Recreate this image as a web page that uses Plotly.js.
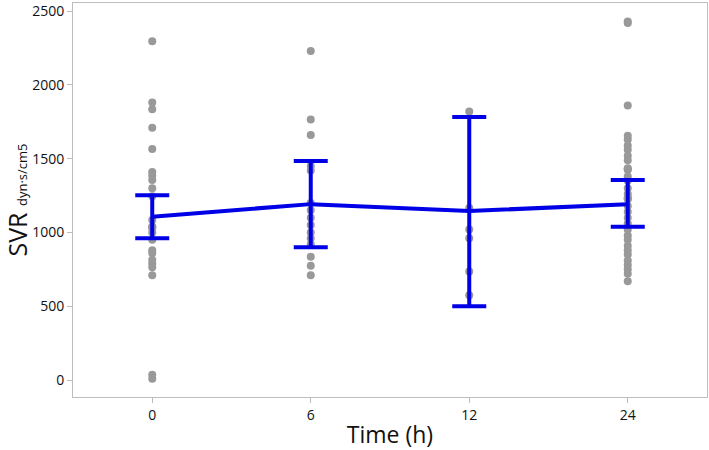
<!DOCTYPE html>
<html><head><meta charset="utf-8">
<script src="https://cdn.plot.ly/plotly-3.0.1.min.js"></script>
<style>html,body{margin:0;padding:0;background:#fff}#c{width:709px;height:450px}</style>
</head><body><div id="c"></div>
<script>
const categories = ['0','6','12','24'];
const pts0 = [2295,1880,1835,1710,1565,1410,1385,1355,1300,1245,1085,1040,1035,1030,1000,950,880,860,815,790,765,710,35,8];
const pts6 = [2230,1765,1660,1450,1420,1200,1150,1100,1050,1000,960,920,835,775,710];
const pts12 = [1820,1165,1020,960,735,575];
const pts24 = [2430,2420,1860,1655,1630,1590,1560,1520,1490,1435,1430,1425,1380,1350,1300,1260,1235,1230,1225,1180,1140,1100,1060,1020,980,950,910,880,850,810,780,750,720,670];
const means = [1107,1192,1145,1192];
const ciUpper = [1253,1484,1782,1355];
const ciLower = [960,899,500,1039];

const allPts = [pts0,pts6,pts12,pts24];
const px = [], py = [];
allPts.forEach((arr,i)=>arr.forEach(v=>{px.push(categories[i]);py.push(v);}));

const traces = [
  {x:px,y:py,type:'scatter',mode:'markers',marker:{color:'#999999',size:8},hoverinfo:'y',showlegend:false},
  {x:categories,y:means,type:'scatter',mode:'lines',line:{color:'#0000e6',width:4},
   error_y:{type:'data',symmetric:false,array:ciUpper.map((u,i)=>u-means[i]),arrayminus:means.map((m,i)=>m-ciLower[i]),color:'#0000e6',thickness:4,width:17},
   showlegend:false}
];
const layout = {
  width:709,height:450,
  margin:{l:73,r:2,t:3,b:53},
  paper_bgcolor:'#fff',plot_bgcolor:'#fff',
  font:{family:'"Open Sans", "Noto Sans", sans-serif',color:'#111'},
  xaxis:{type:'category',range:[-0.5,3.5],showgrid:false,zeroline:false,showline:true,linecolor:'#bdbdbd',linewidth:1,mirror:true,
    ticks:'outside',ticklen:5,tickcolor:'#bdbdbd',tickfont:{size:14,color:'#111'},
    title:{text:'Time (h)',font:{size:23,color:'#111'},standoff:6}},
  yaxis:{range:[-115,2555],tickvals:[0,500,1000,1500,2000,2500],showgrid:false,zeroline:false,showline:true,linecolor:'#bdbdbd',linewidth:1,mirror:true,
    ticks:'outside',ticklen:5,tickcolor:'#bdbdbd',tickfont:{size:14,color:'#111'},
    title:{text:'SVR <span style="font-size:13px">dyn·s/cm5</span>',font:{size:25,color:'#111'},standoff:8}}
};
Plotly.newPlot('c',traces,layout,{displayModeBar:false,staticPlot:true});
</script>
</body></html>
